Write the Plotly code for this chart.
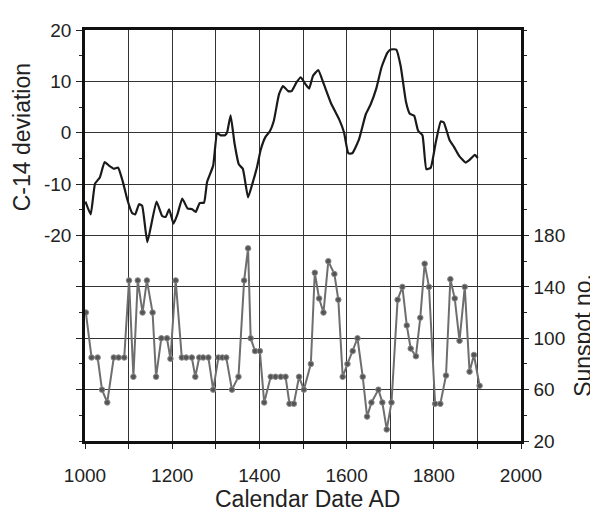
import plotly.graph_objects as go

# C-14 deviation (top curve)
c14_years = [1001, 1013, 1023, 1034, 1045, 1055, 1066, 1076, 1087, 1097, 1108, 1115, 1124, 1131,
             1143, 1164, 1177, 1185, 1193, 1203, 1212, 1223, 1235, 1246, 1254, 1263, 1273, 1280,
             1294, 1303, 1311, 1321, 1326, 1334, 1343, 1353, 1362, 1374, 1384, 1395, 1403, 1414,
             1424, 1433, 1445, 1454, 1466, 1474, 1485, 1495, 1506, 1514, 1523, 1535, 1548, 1564,
             1583, 1594, 1604, 1613, 1628, 1644, 1655, 1668, 1680, 1693, 1701, 1714, 1724, 1736,
             1745, 1755, 1764, 1774, 1783, 1793, 1804, 1816, 1823, 1836, 1846, 1858, 1873, 1882,
             1894, 1901]
c14_values = [-13.4, -15.9, -9.9, -8.7, -5.7, -6.4, -7.0, -6.8, -9.6, -13.0, -15.6, -15.9, -13.9, -14.2,
              -21.3, -13.4, -16.2, -16.4, -14.9, -17.7, -15.9, -12.8, -14.7, -14.9, -15.4, -13.7, -13.6, -9.6,
              -6.4, -0.1, -0.5, -0.5, 0.1, 3.4, -2.1, -6.2, -7.0, -12.6, -9.9, -6.5, -3.3, -0.8,
              0.3, 2.3, 7.5, 9.1, 8.1, 8.1, 9.8, 10.8, 9.4, 8.6, 11.1, 12.2, 9.4, 5.8,
              2.6, 0.1, -4.0, -4.0, -1.4, 3.6, 5.5, 8.6, 12.7, 15.5, 16.2, 16.2, 13.0, 6.1,
              3.7, 3.3, 0.4, -0.5, -7.1, -6.8, -2.1, 2.2, 2.0, -1.4, -2.7, -4.5, -5.8, -5.3,
              -4.3, -4.9]

# Sunspot number (bottom curve)
sun_years = [1002, 1015, 1029, 1039, 1051, 1066, 1077, 1090, 1101, 1111, 1121, 1132, 1142, 1155,
             1163, 1175, 1188, 1196, 1208, 1222, 1232, 1245, 1253, 1262, 1271, 1283, 1294, 1306,
             1315, 1324, 1337, 1352, 1365, 1374, 1380, 1390, 1401, 1411, 1426, 1437, 1449, 1460,
             1469, 1479, 1491, 1502, 1518, 1527, 1537, 1547, 1558, 1572, 1581, 1591, 1602, 1614,
             1625, 1637, 1647, 1657, 1673, 1682, 1692, 1703, 1717, 1728, 1738, 1747, 1759, 1769,
             1779, 1789, 1803, 1815, 1828, 1838, 1848, 1859, 1871, 1882, 1892, 1905]
sun_values = [120, 85, 85, 60, 50, 85, 85, 85, 145, 70, 145, 120, 145, 120,
              70, 100, 100, 84, 145, 85, 85, 85, 70, 85, 85, 85, 60, 85,
              85, 85, 60, 70, 145, 170, 100, 90, 90, 50, 70, 70, 70, 70,
              49, 49, 70, 60, 80, 151, 131, 120, 160, 150, 130, 70, 80, 90,
              100, 70, 39, 50, 60, 50, 29, 50, 130, 140, 110, 92, 86, 116,
              158, 140, 49, 49, 71, 146, 131, 98, 140, 74, 87, 63]

x_ticks = [1000, 1200, 1400, 1600, 1800, 2000]
left_ticks = [-50, -40, -30, -20, -10, 0, 10, 20]
left_labels = ["", "", "", "-20", "-10", "0", "10", "20"]
right_ticks = [20, 60, 100, 140, 180]

FONT = "Liberation Sans, Arial, sans-serif"
TXT = "#222222"

fig = go.Figure()
fig.add_trace(go.Scatter(x=c14_years, y=c14_values, mode="lines",
                         line=dict(color="#1a1a1a", width=2.2, shape="spline", smoothing=0.4),
                         showlegend=False, yaxis="y"))
fig.add_trace(go.Scatter(x=sun_years, y=sun_values, mode="lines+markers",
                         line=dict(color="#6e6e6e", width=2),
                         marker=dict(size=5.5, color="#555555", line=dict(color="#8a8a8a", width=1)),
                         showlegend=False, yaxis="y2"))

fig.update_layout(
    width=590, height=507,
    margin=dict(l=77, r=77, t=15, b=74),
    paper_bgcolor="white", plot_bgcolor="white",
    font=dict(family=FONT, size=19, color=TXT),
    xaxis=dict(range=[1000, 2000], tickvals=x_ticks, ticktext=[str(v) for v in x_ticks],
               showgrid=True, gridcolor="#333333", gridwidth=1,
               minor=dict(dtick=100, tick0=1000, showgrid=True, gridcolor="#333333", gridwidth=1,
                          ticks="outside", ticklen=5, tickcolor="#222"),
               showline=True, linecolor="#111111", linewidth=2.5, mirror=True,
               ticks="outside", ticklen=5, tickcolor="#222", zeroline=False,
               tickfont=dict(size=19, color=TXT), ticklabelstandoff=10),
    yaxis=dict(range=[-60, 20], tickvals=left_ticks, ticktext=left_labels,
               showgrid=True, gridcolor="#333333", gridwidth=1,
               showline=True, linecolor="#111111", linewidth=2.5,
               ticks="outside", ticklen=6, tickcolor="#222", zeroline=False,
               minor=dict(dtick=5, tick0=0, ticks="outside", ticklen=3, tickcolor="#222", showgrid=False),
               tickfont=dict(size=19, color=TXT), ticklabelstandoff=1),
    yaxis2=dict(range=[20, 340], overlaying="y", side="right", tickvals=right_ticks,
                ticktext=[str(v) for v in right_ticks], showgrid=False,
                showline=True, linecolor="#111111", linewidth=2.5,
                ticks="outside", ticklen=5, tickcolor="#222", zeroline=False,
                minor=dict(dtick=20, tick0=20, ticks="outside", ticklen=3, tickcolor="#222", showgrid=False),
                tickfont=dict(size=19, color=TXT), ticklabelstandoff=1),
    annotations=[
        dict(text="C-14 deviation", xref="paper", yref="paper", x=-0.1445, y=0.739,
             textangle=-90, showarrow=False, font=dict(size=23, color=TXT),
             xanchor="center", yanchor="middle"),
        dict(text="Sunspot no.", xref="paper", yref="paper", x=1.142, y=0.258,
             textangle=-90, showarrow=False, font=dict(size=23, color=TXT),
             xanchor="center", yanchor="middle"),
        dict(text="Calendar Date AD", xref="paper", yref="paper", x=0.51, y=-0.141,
             showarrow=False, font=dict(size=23, color=TXT),
             xanchor="center", yanchor="middle"),
    ],
)

fig.write_html("out.html")
